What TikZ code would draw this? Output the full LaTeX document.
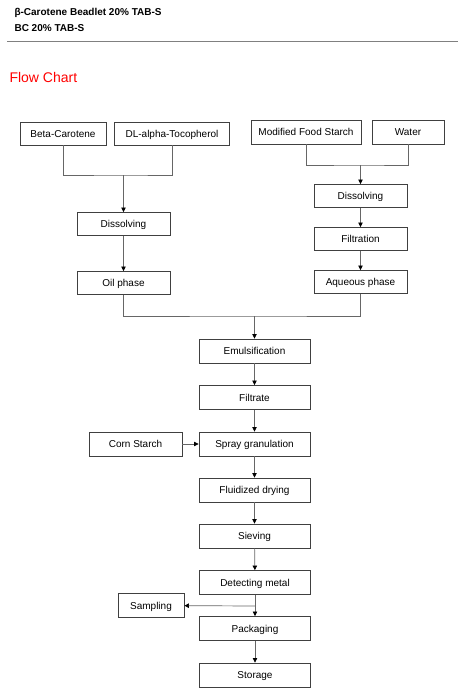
\documentclass[tikz,border=0pt]{standalone}
\usepackage{fontspec}
\setmainfont{Liberation Sans}
\usetikzlibrary{arrows.meta}
\begin{document}
\begin{tikzpicture}[x=1pt,y=-1pt,
    box/.style={draw=black!75,line width=0.9pt,minimum height=23pt,inner sep=0pt,text height=7.2pt,text depth=0pt,font=\fontsize{10}{12}\selectfont},
    line/.style={draw=black!60,line width=0.7pt},
    >={Triangle[length=4.5pt,width=4.5pt,black]}]
            \useasboundingbox(0,0)rectangle(467,696);
            \node(h1)[anchor=base west,font=\fontsize{10}{12}\selectfont\bfseries]at(11,16){β-Carotene Beadlet 20\% TAB-S};
            \node(h2)[anchor=base west,font=\fontsize{10}{12}\selectfont\bfseries]at(11,31){BC 20\% TAB-S};
            \draw[black!50,line width=1pt](7,41)--(458,41);
            \node(h3)[anchor=base west,red,font=\fontsize{14}{16}\selectfont]at(6,82.5){Flow Chart};
            \node(1)[box,minimum width=86pt]at(63,133.5){Beta-Carotene};
            \node(2)[box,minimum width=115pt]at(172,133.5){DL-alpha-Tocopherol};
            \node(3)[box,minimum width=93pt]at(123.5,224){Dissolving};
            \node(4)[box,minimum width=93pt]at(123.5,283){Oil phase};
            \node(5)[box,minimum width=110pt,minimum height=24pt]at(306,132){Modified Food Starch};
            \node(6)[box,minimum width=72pt,minimum height=24pt]at(408,132){Water};
            \node(7)[box,minimum width=93pt]at(360.5,196){Dissolving};
            \node(8)[box,minimum width=93pt]at(360.5,239){Filtration};
            \node(9)[box,minimum width=93pt]at(360.5,282){Aqueous phase};
            \node(10)[box,minimum width=111pt,minimum height=24pt]at(254.5,351){Emulsification};
            \node(11)[box,minimum width=111pt,minimum height=24pt]at(254.5,397.5){Filtrate};
            \node(12)[box,minimum width=111pt,minimum height=24pt]at(254.5,444){Spray granulation};
            \node(13)[box,minimum width=93pt,minimum height=24pt]at(135.5,444){Corn Starch};
            \node(14)[box,minimum width=111pt,minimum height=24pt]at(254.5,490){Fluidized drying};
            \node(15)[box,minimum width=111pt,minimum height=24pt]at(254.5,536){Sieving};
            \node(16)[box,minimum width=111pt,minimum height=24pt]at(255,582.5){Detecting metal};
            \node(17)[box,minimum width=66pt,minimum height=24pt]at(151,605.5){Sampling};
            \node(18)[box,minimum width=111pt,minimum height=24pt]at(255,628.5){Packaging};
            \node(19)[box,minimum width=111pt,minimum height=24pt]at(255,675){Storage};
            \coordinate(a)at(123.5,175);
            \coordinate(b)at(360.5,165);
            \coordinate(c)at(254.5,316);
            \coordinate(s)at(255,606);
            \draw[line](1)|-(a)-|(2);
            \draw[line,->](a)--(3);
            \draw[line,->](3)--(4);
            \draw[line](5)|-(b)-|(6);
            \draw[line,->](b)--(7);
            \draw[line,->](7)--(8);
            \draw[line,->](8)--(9);
            \draw[line](4)|-(c)-|(9);
            \draw[line,->](c)--(10);
            \draw[line,->](10)--(11);
            \draw[line,->](11)--(12);
            \draw[line,->](13)--(12);
            \draw[line,->](12)--(14);
            \draw[line,->](14)--(15);
            \draw[line,->](15)--(16);
            \draw[line,->](16)--(18);
            \draw[line,->](s)--(17);
            \draw[line,->](18)--(19);
        \end{tikzpicture}
\end{document}
